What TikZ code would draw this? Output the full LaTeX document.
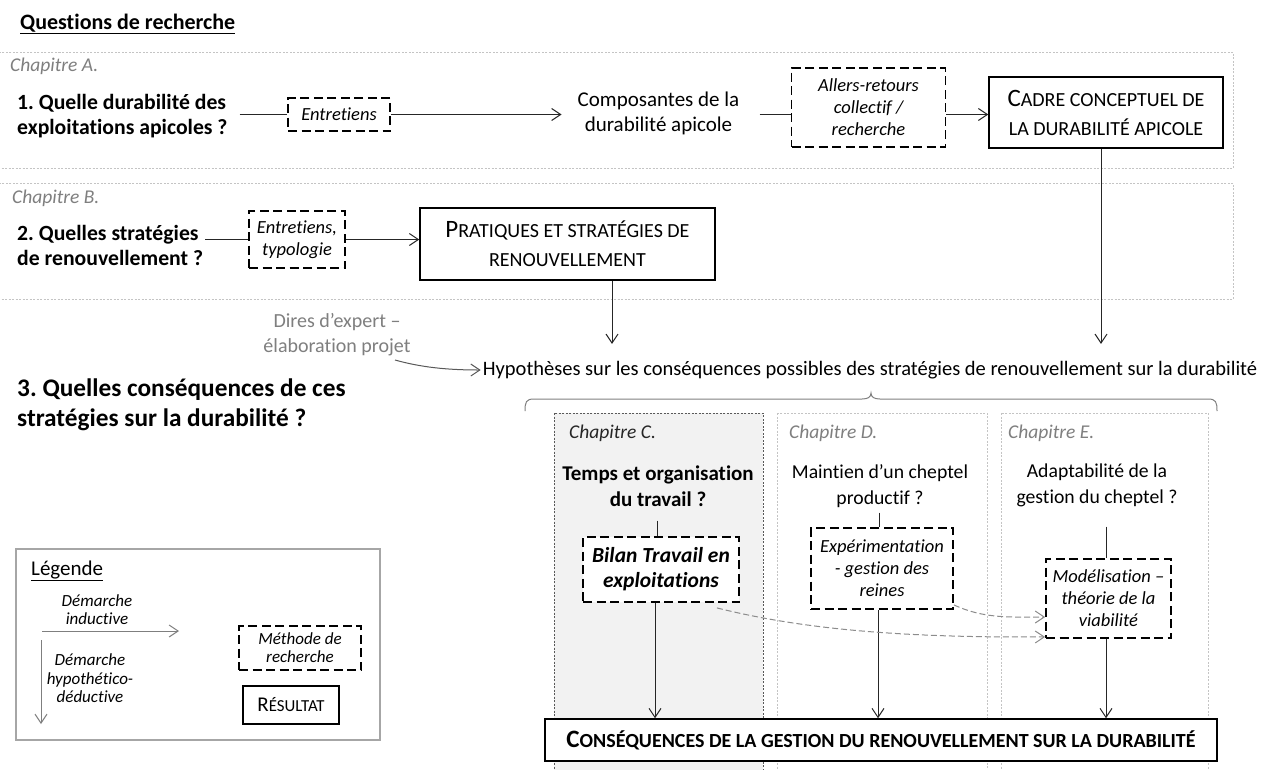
\documentclass[tikz,border=0pt]{standalone}
\usepackage{fontspec}
\setmainfont{Carlito}[Ligatures={TeX,NoCommon}]
\usetikzlibrary{arrows.meta,calc}
\definecolor{txtgray}{HTML}{7F7F7F}
\definecolor{bandgray}{HTML}{C4C4C4}
\definecolor{colfill}{HTML}{F2F2F2}
\definecolor{colline}{HTML}{595959}
\definecolor{leggray}{HTML}{A6A6A6}
\definecolor{linecol}{HTML}{262626}
\definecolor{curvegray}{HTML}{8C8C8C}
\newcommand{\fsz}[2]{\fontsize{#1}{#2}\selectfont}
\newcommand{\mysc}[1]{{\fontsize{20}{29}\selectfont #1}}
\frenchspacing
\begin{document}
\begin{tikzpicture}[x=1pt,y=-1pt,
 >={Straight Barb[length=9pt,width=12pt]},
 band/.style={draw=bandgray, line width=0.8pt, dash pattern=on 2pt off 1.5pt},
 colC/.style={draw=colline, fill=colfill, line width=0.8pt, dash pattern=on 2pt off 1.5pt},
 colDE/.style={draw=bandgray, line width=0.8pt, dash pattern=on 2pt off 1.5pt},
 conn/.style={draw=linecol, line width=1pt},
 arr/.style={conn, ->},
 garr/.style={draw=curvegray, line width=1pt, dash pattern=on 6pt off 3pt, ->},
 method/.style={draw=black, line width=1.8pt, dash pattern=on 9pt off 4.5pt, fill=white, inner sep=0pt, align=center, font=\fsz{18.5}{22}\itshape},
 result/.style={draw=black, line width=1.5pt, fill=white, inner sep=0pt, align=center, font=\fsz{25}{29}},
 txt/.style={inner sep=0pt, align=center, font=\fsz{21}{25}},
 question/.style={inner sep=0pt, align=left, anchor=west, font=\fsz{21.7}{25}\bfseries},
 chap/.style={inner sep=0pt, anchor=west, font=\fsz{19.5}{23}\itshape, text=txtgray}]
\useasboundingbox (0,0) rectangle (1266,769);
\clip (0,0) rectangle (1266,769);
\fill[white] (0,0) rectangle (1266,769);

% bands and columns
\draw[band] (-5,52) rectangle (1233,168);
\draw[band] (-5,183) rectangle (1233,299);
\draw[colC] (554,413) rectangle (763,790);
\draw[colDE] (777,413) rectangle (987,790);
\draw[colDE] (1001,413) rectangle (1208,790);

\node[inner sep=0pt, anchor=west, font=\fsz{22}{25}\bfseries] (title) at (20,24) {\underline{Questions de recherche}};

% Chapter A
\node[chap] (chapA) at (10,66) {Chapitre A.};
\node[question] (q1) at (17,116.5) {1. Quelle durabilité des\\exploitations apicoles ?};
\node[method, minimum width=102pt, minimum height=33pt] (ent1) at (339,114.5) {Entretiens};
\node[txt] (comp) at (658.5,113.5) {Composantes de la\\durabilité apicole};
\node[method, minimum width=154pt, minimum height=79pt] (allers) at (868.5,107.5) {Allers-retours\\collectif /\\recherche};
\node[result, minimum width=234pt, minimum height=71pt] (cadre) at (1106,112.5) {C\mysc{ADRE CONCEPTUEL DE}\\\mysc{LA DURABILITÉ APICOLE}};
\draw[conn, shorten <=12pt] (q1.east |- ent1.west) -- (ent1.west);
\draw[arr, shorten >=16pt] (ent1.east) -- (ent1.east -| comp.west);
\draw[conn, shorten <=20pt] (comp.east |- ent1.east) -- (allers.west |- ent1.east);
\draw[arr] (allers.east |- ent1.east) -- (cadre.west |- ent1.east);

% Chapter B
\node[chap] (chapB) at (12,198) {Chapitre B.};
\node[question] (q2) at (17,245.5) {2. Quelles stratégies\\de renouvellement ?};
\node[method, minimum width=96pt, minimum height=57pt] (ent2) at (297,239.5) {Entretiens,\\typologie};
\node[result, minimum width=295pt, minimum height=72pt] (prat) at (567.5,244) {P\mysc{RATIQUES ET STRATÉGIES DE}\\\mysc{RENOUVELLEMENT}};
\draw[conn, shorten <=2pt] (q2.east |- ent2.west) -- (ent2.west);
\draw[arr] (ent2.east) -- (ent2.east -| prat.west);

% Hypotheses
\node[txt, inner sep=2pt, font=\fsz{20.5}{24}] (hyp) at (870,370) {Hypothèses sur les conséquences possibles des stratégies de renouvellement sur la durabilité};
\draw[arr, shorten >=15pt] ([xshift=44.5pt]prat.south) -- ([xshift=44.5pt]prat.south |- hyp.north);
\draw[arr, shorten >=15pt] ([xshift=-5pt]cadre.south) -- ([xshift=-5pt]cadre.south |- hyp.north);
\node[txt, font=\fsz{20}{25}, text=txtgray] (dires) at (337,334.5) {Dires d’expert –\\élaboration projet};
\coordinate (dstart) at (395,360);
\draw[arr, draw=colline] (dstart) .. controls +(25,7) and +(-35,0) .. (hyp.west);

\node[question, font=\fsz{25.3}{30}\bfseries] (q3) at (17,405) {3. Quelles conséquences de ces\\stratégies sur la durabilité ?};

% brace
\draw[draw=gray, line width=1pt] (525,411) .. controls (525,402) and (526,399) .. (534,399) -- (862,399) .. controls (868,399) and (871,397) .. (871,393) .. controls (871,397) and (874,399) .. (880,399) -- (1208,399) .. controls (1216,399) and (1217,402) .. (1217,411);

% Chapters C D E
\node[chap, text=linecol] (chapC) at (569,433) {Chapitre C.};
\node[chap] (chapD) at (789,433) {Chapitre D.};
\node[chap] (chapE) at (1008,433) {Chapitre E.};
\node[txt, font=\fsz{21}{26}\bfseries] (cq) at (658,486) {Temps et organisation\\du travail ?};
\node[txt, font=\fsz{19.7}{26}] (dq) at (880,486) {Maintien d’un cheptel\\productif ?};
\node[txt, font=\fsz{19.7}{26}] (eq) at (1097,485) {Adaptabilité de la\\gestion du cheptel ?};

\node[method, font=\fsz{21.5}{25}\bfseries\itshape, minimum width=156pt, minimum height=65pt] (cbox) at (661,569.5) {Bilan Travail en\\exploitations};
\node[method, minimum width=142pt, minimum height=81pt] (dbox) at (882,568.5) {Expérimentation\\- gestion des\\reines};
\node[method, minimum width=125pt, minimum height=79pt] (ebox) at (1108.5,598.5) {Modélisation –\\théorie de la\\viabilité};

\node[result, font=\fsz{25}{30}\bfseries, minimum width=672pt, minimum height=42pt] (cons) at (881,740) {C{\fontsize{20}{30}\selectfont ONSÉQUENCES DE LA GESTION DU RENOUVELLEMENT SUR LA DURABILITÉ}};

\draw[conn, shorten <=14pt] ([xshift=-4pt]cbox.north |- cq.south) -- ([xshift=-4pt]cbox.north);
\draw[conn, shorten <=5pt] ([xshift=-3pt]dbox.north |- dq.south) -- ([xshift=-3pt]dbox.north);
\draw[conn, shorten <=20pt] ([xshift=-2.5pt]ebox.north |- eq.south) -- ([xshift=-2.5pt]ebox.north);

\draw[arr] ([xshift=-6pt]cbox.south) -- ([xshift=-6pt]cbox.south |- cons.north);
\draw[arr] ([xshift=-4pt]dbox.south) -- ([xshift=-4pt]dbox.south |- cons.north);
\draw[arr] ([xshift=-2.5pt]ebox.south) -- ([xshift=-2.5pt]ebox.south |- cons.north);

\draw[garr] ([xshift=-23pt,yshift=-5pt]cbox.south east) .. controls +(84,21) and +(-145,1) .. ([yshift=2pt]ebox.south west);
\draw[garr] ([yshift=5pt]dbox.south east) .. controls +(30,14) and +(-35,0) .. ([yshift=-18.5pt]ebox.west);

% Legend
\node[draw=leggray, line width=1.5pt, minimum width=364pt, minimum height=191pt, inner sep=0pt] (legend) at (198,644.5) {};
\node[inner sep=0pt, anchor=west, font=\fsz{21}{25}] (legtitle) at (31,571) {\underline{Légende}};
\node[txt, font=\fsz{17}{18}\itshape] (lind) at (97,609.5) {Démarche\\inductive};
\coordinate (lh1) at (42,631);
\coordinate (lh2) at (179,631);
\draw[arr, draw=txtgray] (lh1) -- (lh2);
\coordinate (lv1) at (41,640);
\coordinate (lv2) at (41,724);
\draw[arr, draw=txtgray] (lv1) -- (lv2);
\node[txt, font=\fsz{17}{18.5}\itshape] (lded) at (90,678.5) {Démarche\\hypothético-\\déductive};
\node[method, line width=1.5pt, font=\fsz{17}{18}\itshape, minimum width=122pt, minimum height=44pt] (lmeth) at (300,648) {Méthode de\\recherche};
\node[result, font=\fsz{21}{24}, minimum width=96pt, minimum height=38pt] (lres) at (291,705) {R{\fontsize{16.8}{24}\selectfont ÉSULTAT}};
\end{tikzpicture}
\end{document}
